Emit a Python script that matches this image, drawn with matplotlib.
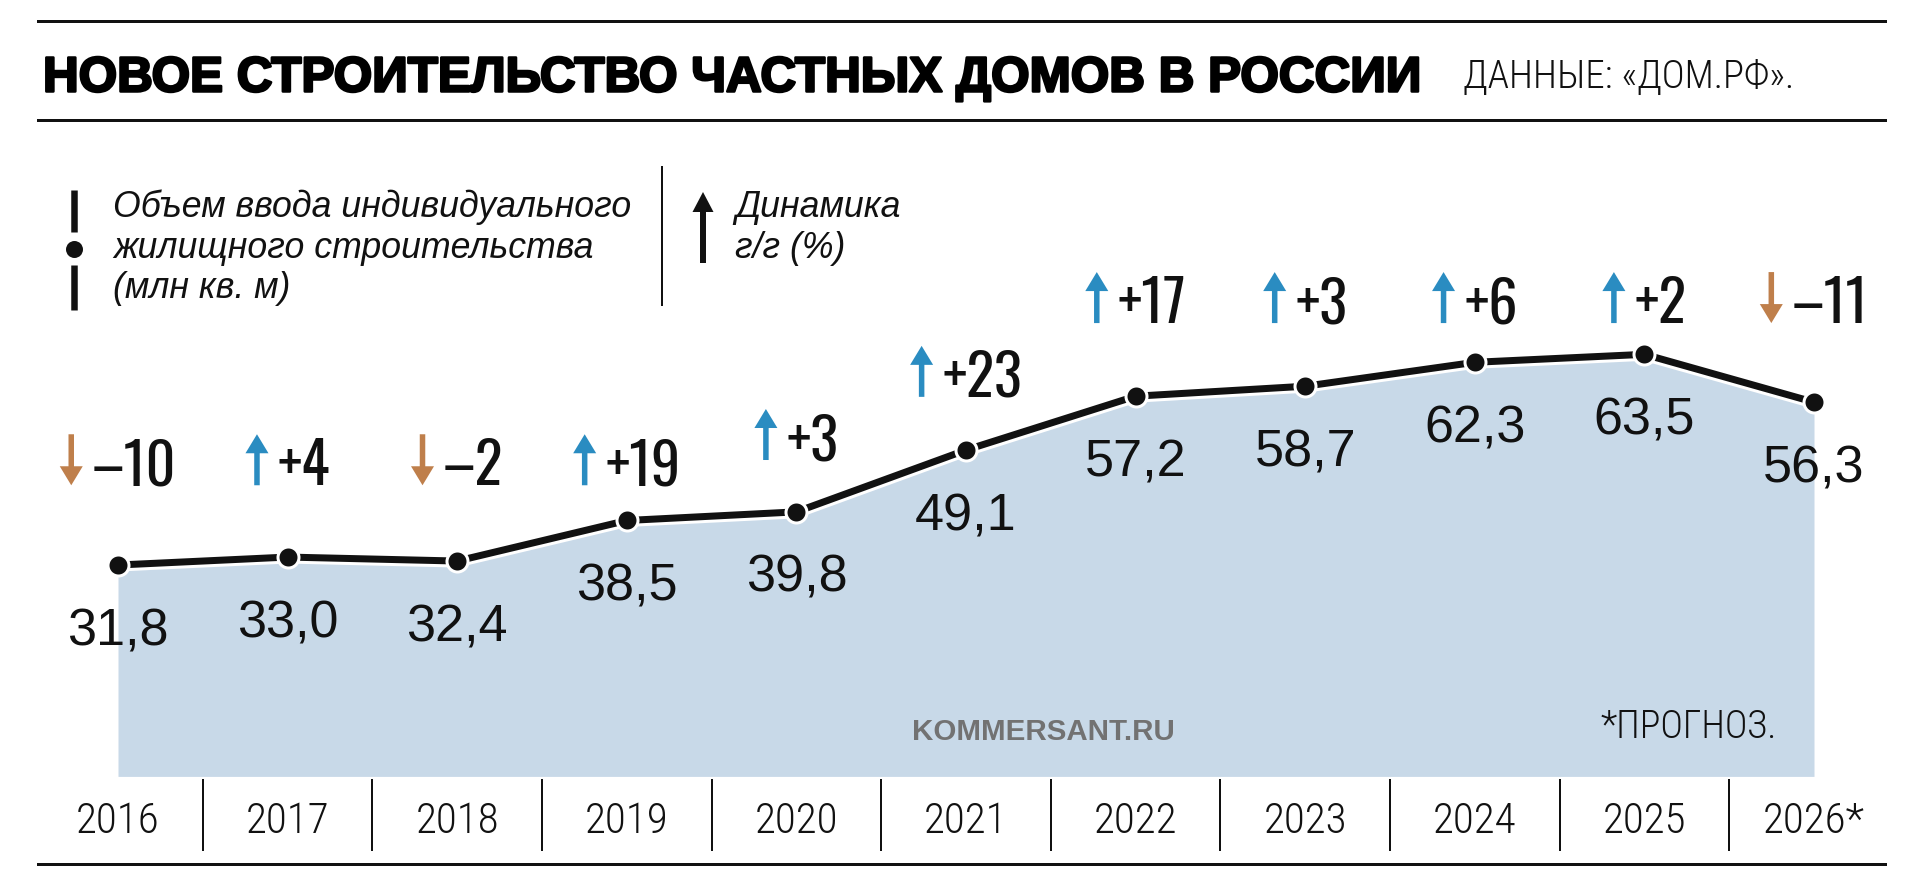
import numpy as np
import matplotlib
matplotlib.use("Agg")
import matplotlib.pyplot as plt
import matplotlib.patheffects as pe
from matplotlib.lines import Line2D
from matplotlib.patches import FancyArrow
from matplotlib.textpath import TextPath
from matplotlib.font_manager import FontProperties

# ---------------- data ----------------
years = ["2016", "2017", "2018", "2019", "2020", "2021", "2022", "2023", "2024", "2025", "2026*"]
volume = [31.8, 33.0, 32.4, 38.5, 39.8, 49.1, 57.2, 58.7, 62.3, 63.5, 56.3]
change = [-10, 4, -2, 19, 3, 23, 17, 3, 6, 2, -11]

# layout: baseline level (in data units) of the yoy-change labels
change_level = [43.8, 43.8, 43.8, 43.8, 47.6, 57.1, 68.2, 68.2, 68.2, 68.2, 68.2]

title = "НОВОЕ СТРОИТЕЛЬСТВО ЧАСТНЫХ ДОМОВ В РОССИИ"
source = "ДАННЫЕ: «ДОМ.РФ»."
legend1 = ["Объем ввода индивидуального", "жилищного строительства", "(млн кв. м)"]
legend2 = ["Динамика", "г/г (%)"]
watermark = "KOMMERSANT.RU"
note = "*ПРОГНОЗ."

# ---------------- styling ----------------
FILL = "#c8d9e8"
BLUE = "#2a8cc1"
BROWN = "#bf7f4b"
INK = "#111111"
COND = ["Roboto Condensed", "Fira Sans Condensed", "PT Sans Narrow", "Liberation Sans", "DejaVu Sans"]
COMP = ["Oswald", "Fira Sans Extra Condensed", "Fira Sans Condensed", "Liberation Sans", "DejaVu Sans"]
SANS = ["Liberation Sans", "DejaVu Sans"]

W, H = 1920, 883
fig = plt.figure(figsize=(W / 100, H / 100), dpi=100)
fig.patch.set_facecolor("white")


def fx(px):
    return px / W


def fy(py):
    return 1 - py / H


PT = 72 / 100  # points per pixel


def size_for_ink_height(sample, target_px, **kw):
    fp = FontProperties(size=100, **kw)
    ext = TextPath((0, 0), sample, prop=fp).get_extents()
    ratio = ext.height / 100.0
    return target_px * PT / ratio


# axes covering the whole canvas; scales chosen so the plot sits in place
X0, DX = 118.0, 169.6   # pixel x of first category, pixel step
Y0, PPU = 776.4, 6.647  # pixel y of value 0, pixels per unit
ax = fig.add_axes([0, 0, 1, 1])
ax.set_xlim(-X0 / DX, (W - X0) / DX)
ax.set_ylim((Y0 - H) / PPU, Y0 / PPU)
ax.axis("off")

renderer = fig.canvas.get_renderer()


def fit_width(t, target):
    bb = t.get_window_extent(renderer=renderer)
    t.set_fontsize(t.get_fontsize() * target / bb.width)


def hline(py, x1=38, x2=1885, lw=3):
    fig.add_artist(Line2D([fx(x1), fx(x2)], [fy(py), fy(py)], color=INK,
                          lw=lw * PT, transform=fig.transFigure))


def px2x(px):
    return (px - X0) / DX


def py2v(py):
    return (Y0 - py) / PPU


# ---------------- header ----------------
hline(21)
hline(119.5)
hline(864)

t = fig.text(fx(43), fy(91.5), title, family=SANS, fontweight="bold", fontsize=36,
             color="black", ha="left", va="baseline",
             path_effects=[pe.withStroke(linewidth=1.8, foreground="black")])
fit_width(t, 1378)

t = fig.text(fx(1463), fy(88), source, family=COND, fontweight="light", fontsize=26,
             color=INK, ha="left", va="baseline")
fit_width(t, 332)

# ---------------- legend ----------------
lx = 74.4
fig.add_artist(Line2D([fx(lx), fx(lx)], [fy(190), fy(232)], color=INK, lw=6.5 * PT,
                      solid_capstyle="butt", transform=fig.transFigure))
fig.add_artist(Line2D([fx(lx), fx(lx)], [fy(265), fy(310)], color=INK, lw=6.5 * PT,
                      solid_capstyle="butt", transform=fig.transFigure))
fig.add_artist(Line2D([fx(lx)], [fy(248.5)], marker="o", ms=17 * PT, color=INK,
                      mec="none", transform=fig.transFigure))

base = [216.7, 258, 298]
t0 = fig.text(fx(113), fy(base[0]), legend1[0], family=SANS, style="italic",
              fontsize=24, color=INK, ha="left", va="baseline")
fit_width(t0, 518)
fs_leg = t0.get_fontsize()
for s, b in zip(legend1[1:], base[1:]):
    fig.text(fx(113), fy(b), s, family=SANS, style="italic", fontsize=fs_leg,
             color=INK, ha="left", va="baseline")

fig.add_artist(Line2D([fx(662), fx(662)], [fy(167), fy(305)], color=INK, lw=2 * PT,
                      transform=fig.transFigure))

ax.add_patch(FancyArrow(px2x(703), py2v(263), 0, (263 - 192) / PPU,
                        width=6 / DX, head_width=21 / DX, head_length=20 / PPU,
                        length_includes_head=True, color=INK, lw=0))
for s, b in zip(legend2, base[:2]):
    fig.text(fx(735), fy(b), s, family=SANS, style="italic", fontsize=fs_leg,
             color=INK, ha="left", va="baseline")

# ---------------- area + line ----------------
x = np.arange(len(years))
ax.fill_between(x, 0, volume, color=FILL, lw=0, zorder=1)
ax.plot(x, volume, color=INK, lw=7 * PT, solid_joinstyle="round",
        path_effects=[pe.Stroke(linewidth=13 * PT, foreground="white"), pe.Normal()],
        zorder=3)
ax.plot(x, volume, "o", ms=21 * PT, mfc=INK, mec="white", mew=3 * PT, zorder=4)

# value labels
for xi, v in zip(x, volume):
    ax.annotate(f"{v:.1f}".replace(".", ","), (xi, v), xytext=(0, -80 * PT),
                textcoords="offset points", ha="center", va="baseline",
                family=SANS, fontsize=37.5, color=INK, zorder=5)

# yoy change labels with arrows
fs_delta = size_for_ink_height("0123456789", 48, family=COMP)
ARROW_H = 51
for xi, c, lev in zip(x, change, change_level):
    label = f"+{c}" if c > 0 else f"–{abs(c)}"
    t = ax.text(xi, lev, label, family=COMP, fontsize=fs_delta, color=INK,
                ha="left", va="baseline", zorder=5)
    tw = t.get_window_extent(renderer=renderer).width
    gw = 23 + 9 + tw
    cx = X0 + xi * DX
    left = cx - gw / 2
    t.set_x(px2x(left + 32))
    ax_px = left + 11.5
    if c > 0:
        ax.add_patch(FancyArrow(px2x(ax_px), lev, 0, ARROW_H / PPU, width=5.5 / DX,
                                head_width=23 / DX, head_length=19 / PPU,
                                length_includes_head=True, color=BLUE, lw=0))
    else:
        ax.add_patch(FancyArrow(px2x(ax_px), lev + ARROW_H / PPU, 0, -ARROW_H / PPU,
                                width=5.5 / DX, head_width=23 / DX, head_length=19 / PPU,
                                length_includes_head=True, color=BROWN, lw=0))

# ---------------- x axis labels ----------------
fs_year = size_for_ink_height("0123456789", 31.5, family=COND, weight="light")
ytr = matplotlib.transforms.blended_transform_factory(ax.transData, fig.transFigure)
for xi, yl in zip(x, years):
    ax.text(xi, fy(833), yl, transform=ytr, family=COND, fontweight="light",
            fontsize=fs_year, color=INK, ha="center", va="baseline")
for xi in x[:-1]:
    ax.add_artist(Line2D([xi + 0.5, xi + 0.5], [fy(780), fy(850)], transform=ytr,
                         color=INK, lw=2 * PT))

# ---------------- watermark + note ----------------
t = fig.text(fx(1043), fy(740), watermark, family=SANS, fontweight="bold",
             fontsize=22, color="#727272", ha="center", va="baseline")
fit_width(t, 262)
t = fig.text(fx(1777), fy(738), note, family=COND, fontweight="light", fontsize=26,
             color=INK, ha="right", va="baseline")
fit_width(t, 177)

fig.savefig("out.png", dpi=100, facecolor="white")
